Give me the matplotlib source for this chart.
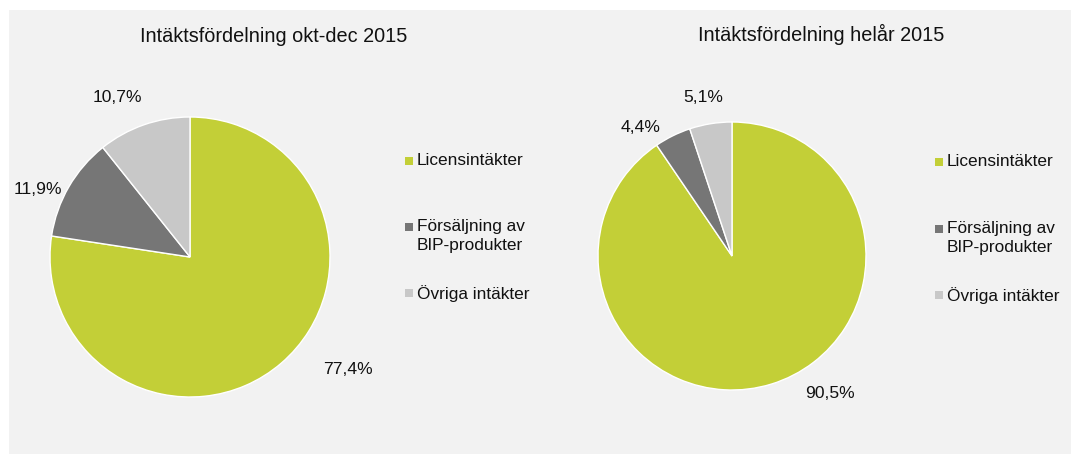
import matplotlib.pyplot as plt
from matplotlib.patches import Rectangle

plt.rcParams['font.family'] = ['Liberation Sans', 'DejaVu Sans']

W, H = 1071, 454

# DATA
categories = ['Licensintäkter', 'Försäljning av\nBIP-produkter', 'Övriga intäkter']
titles = ['Intäktsfördelning okt-dec 2015', 'Intäktsfördelning helår 2015']
q4_values = [77.4, 11.9, 10.7]
year_values = [90.5, 4.4, 5.1]
colors = ['#c3cf37', '#767676', '#c8c8c8']

# layout (pixel coords, y from top)
panels = [
    dict(values=q4_values, title=titles[0], title_xy=(274, 36),
         center=(190, 257), radius=140,
         label_xy=[(348, 370), (38, 189), (117, 98)],
         leg_x=409, leg_y=[161, 227, 293]),
    dict(values=year_values, title=titles[1], title_xy=(821, 34),
         center=(732, 256), radius=134,
         label_xy=[(830, 393), (641, 127), (703, 97)],
         leg_x=939, leg_y=[162, 229, 295]),
]


def Y(y):
    return H - y


fig = plt.figure(figsize=(W / 100, H / 100), dpi=100)
fig.patch.set_facecolor('white')
ax = fig.add_axes([0, 0, 1, 1])

for p in panels:
    cx, cy = p['center']
    ax.pie(p['values'], colors=colors, startangle=90, counterclock=False,
           center=(cx, Y(cy)), radius=p['radius'],
           wedgeprops=dict(edgecolor='white', linewidth=1))
    for v, (lx, ly) in zip(p['values'], p['label_xy']):
        ax.text(lx, Y(ly), f'{v:.1f}%'.replace('.', ','), fontsize=12.6,
                ha='center', va='center', color='#111111')
    ax.text(p['title_xy'][0], Y(p['title_xy'][1]), p['title'], fontsize=14.3,
            ha='center', va='center', color='#111111')
    for cat, col, ly in zip(categories, colors, p['leg_y']):
        ax.add_patch(Rectangle((p['leg_x'] - 4, Y(ly) - 4), 8, 8,
                               facecolor=col, edgecolor='none'))
        ax.text(p['leg_x'] + 8, Y(ly) + 8, cat, fontsize=12.4, ha='left',
                va='top', linespacing=1.35, color='#111111')

ax.add_patch(Rectangle((9, 0), W - 9, H - 10, facecolor='#f2f2f2',
                       edgecolor='none', zorder=-10))
ax.set_xlim(0, W)
ax.set_ylim(0, H)
ax.set_aspect('auto')
ax.axis('off')

fig.savefig('out.png', dpi=100, facecolor='white')
